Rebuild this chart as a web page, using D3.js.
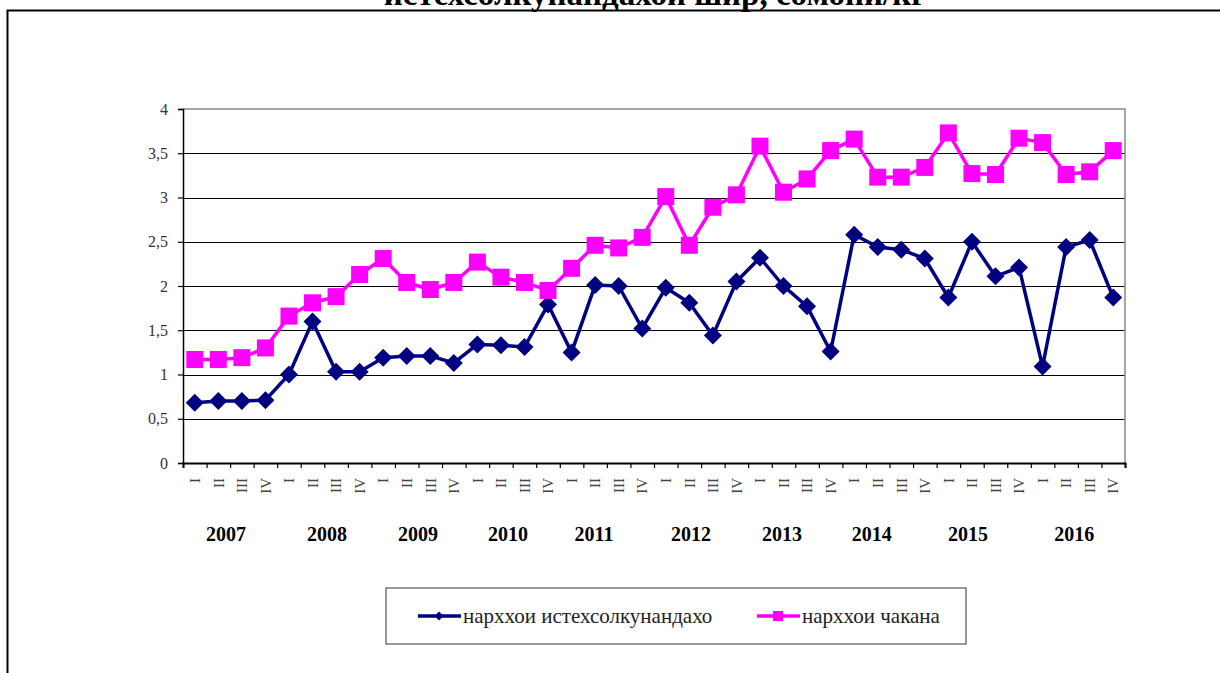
<!DOCTYPE html>
<html lang="tg">
<head>
  <meta charset="UTF-8">
  <title>Нархҳои шир</title>
  <script src="https://cdn.jsdelivr.net/npm/d3@7"></script>
  <style>
    body { margin: 0; background: #fff; }
    svg text { font-family: "Liberation Serif", "Times New Roman", "DejaVu Serif", serif; }
  </style>
</head>
<body>
<script>
  // quarters and years
  const years = ['2007', '2008', '2009', '2010', '2011', '2012', '2013', '2014', '2015', '2016'];
  const quarters = ['I', 'II', 'III', 'IV'];
  // year label position, in quarter units from the left axis (as placed in the original)
  const yearPos = [1.83, 6.11, 9.98, 13.8, 17.45, 21.57, 25.44, 29.25, 33.33, 37.85];

  // producer prices (navy, diamonds)
  const producer = [
    0.68, 0.70, 0.70, 0.71,
    1.00, 1.60, 1.03, 1.03,
    1.19, 1.21, 1.21, 1.13,
    1.34, 1.33, 1.31, 1.79,
    1.25, 2.01, 2.00, 1.52,
    1.98, 1.81, 1.44, 2.05,
    2.32, 2.00, 1.77, 1.26,
    2.58, 2.44, 2.41, 2.31,
    1.87, 2.50, 2.11, 2.21,
    1.09, 2.44, 2.52, 1.87
  ];
  // retail prices (magenta, squares)
  const retail = [
    1.17, 1.17, 1.19, 1.30,
    1.66, 1.81, 1.88, 2.13,
    2.31, 2.04, 1.96, 2.04,
    2.27, 2.10, 2.04, 1.95,
    2.20, 2.46, 2.43, 2.55,
    3.01, 2.46, 2.89, 3.03,
    3.58, 3.06, 3.21, 3.53,
    3.66, 3.23, 3.23, 3.34,
    3.73, 3.27, 3.26, 3.67,
    3.62, 3.26, 3.29, 3.53
  ];
  const yTicks = [0, 0.5, 1, 1.5, 2, 2.5, 3, 3.5, 4];

  const series = [
    { name: 'нарххои истехсолкунандахо', values: producer, color: '#000080', symbol: 'diamond' },
    { name: 'нарххои чакана', values: retail, color: '#ff00ff', symbol: 'square' }
  ];

  const W = 1220, H = 673;
  const plot = { left: 183, right: 1125, top: 109, bottom: 463 };

  const svg = d3.select('body').append('svg')
    .attr('width', W)
    .attr('height', H);

  // outer frame (left and top lines only are visible)
  svg.append('path')
    .attr('d', `M7.5,${H} L7.5,10.5 L${W},10.5`)
    .attr('fill', 'none')
    .attr('stroke', '#000')
    .attr('stroke-width', 2);

  // title, partly above the top of the picture as in the original
  svg.append('text')
    .attr('x', 655)
    .attr('y', 5)
    .attr('text-anchor', 'middle')
    .style('font-size', '33px')
    .style('font-weight', 'bold')
    .text('истехсолкунандахои шир, сомони/кг');

  const nQ = years.length * quarters.length;
  const x = d3.scaleLinear().domain([0, nQ]).range([plot.left, plot.right]);
  const y = d3.scaleLinear().domain([0, 4]).range([plot.bottom, plot.top]);

  // grid lines
  svg.append('g')
    .selectAll('line')
    .data(yTicks.filter(d => d > 0 && d < 4))
    .enter().append('line')
    .attr('x1', plot.left).attr('x2', plot.right)
    .attr('y1', d => Math.round(y(d)) + 0.5).attr('y2', d => Math.round(y(d)) + 0.5)
    .attr('stroke', '#000')
    .attr('stroke-width', 1);

  // gray plot border top + right
  svg.append('path')
    .attr('d', `M${plot.left},${plot.top} L${plot.right},${plot.top} L${plot.right},${plot.bottom}`)
    .attr('fill', 'none')
    .attr('stroke', '#888')
    .attr('stroke-width', 1.5);

  // y axis
  const yAxis = svg.append('g')
    .attr('transform', `translate(${plot.left},0)`)
    .call(d3.axisLeft(y).tickValues(yTicks).tickSize(5).tickPadding(10)
      .tickFormat(d => String(d).replace('.', ',')))
    .attr('font-family', null)
    .attr('font-size', null);
  yAxis.select('.domain').attr('stroke', '#000').attr('stroke-width', 1.5);
  yAxis.selectAll('line').attr('stroke', '#000').attr('stroke-width', 1.2);
  yAxis.selectAll('text')
    .style('font-size', '16px')
    .attr('fill', '#333');

  // x axis with ticks at quarter boundaries
  const xAxis = svg.append('g')
    .attr('transform', `translate(0,${plot.bottom})`)
    .call(d3.axisBottom(x).tickValues(d3.range(nQ + 1)).tickSize(5).tickFormat(''));
  xAxis.select('.domain').attr('stroke', '#000').attr('stroke-width', 2);
  xAxis.selectAll('line').attr('stroke', '#000').attr('stroke-width', 1.2);

  // quarter labels, rotated
  const qLabels = d3.range(nQ).map(i => ({ i, label: quarters[i % 4] }));
  svg.append('g')
    .selectAll('text')
    .data(qLabels)
    .enter().append('text')
    .attr('transform', d => `translate(${x(d.i + 0.5)},478) rotate(-90)`)
    .attr('text-anchor', 'end')
    .attr('dy', '0.35em')
    .attr('fill', '#444')
    .style('font-size', '15px')
    .text(d => d.label);

  // year labels
  svg.append('g')
    .selectAll('text')
    .data(years)
    .enter().append('text')
    .attr('x', (d, i) => x(yearPos[i]))
    .attr('y', 541)
    .attr('text-anchor', 'middle')
    .style('font-size', '20px')
    .style('font-weight', 'bold')
    .text(d => d);

  const line = d3.line()
    .x((d, i) => x(i + 0.5))
    .y(d => y(d));

  const symbolPath = {
    diamond: s => `M0,${-s} L${s},0 L0,${s} L${-s},0 Z`,
    square: s => `M${-s},${-s} H${s} V${s} H${-s} Z`
  };

  series.forEach(s => {
    svg.append('path')
      .datum(s.values)
      .attr('d', line)
      .attr('fill', 'none')
      .attr('stroke', s.color)
      .attr('stroke-width', 3.5)
      .attr('stroke-linejoin', 'round');

    svg.append('g')
      .selectAll('path')
      .data(s.values)
      .enter().append('path')
      .attr('transform', (d, i) => `translate(${x(i + 0.5)},${y(d)})`)
      .attr('d', s.symbol === 'diamond' ? symbolPath.diamond(9) : symbolPath.square(8.5))
      .attr('fill', s.color);
  });

  // legend
  const legend = svg.append('g');
  legend.append('rect')
    .attr('x', 386).attr('y', 588)
    .attr('width', 580).attr('height', 56)
    .attr('fill', '#fff')
    .attr('stroke', '#777')
    .attr('stroke-width', 1.5);

  const legendX = [418, 757];
  series.forEach((s, i) => {
    const lx = legendX[i];
    const g = legend.append('g').attr('transform', `translate(${lx},616)`);
    g.append('line')
      .attr('x1', 0).attr('x2', 43)
      .attr('stroke', s.color)
      .attr('stroke-width', 3.5);
    g.append('path')
      .attr('transform', 'translate(21,0)')
      .attr('d', s.symbol === 'diamond' ? symbolPath.diamond(4.5) : symbolPath.square(5))
      .attr('fill', s.color);
    g.append('text')
      .attr('x', 45)
      .attr('dy', '0.32em')
      .attr('fill', '#222')
      .style('font-size', '21px')
      .text(s.name);
  });
</script>
</body>
</html>
